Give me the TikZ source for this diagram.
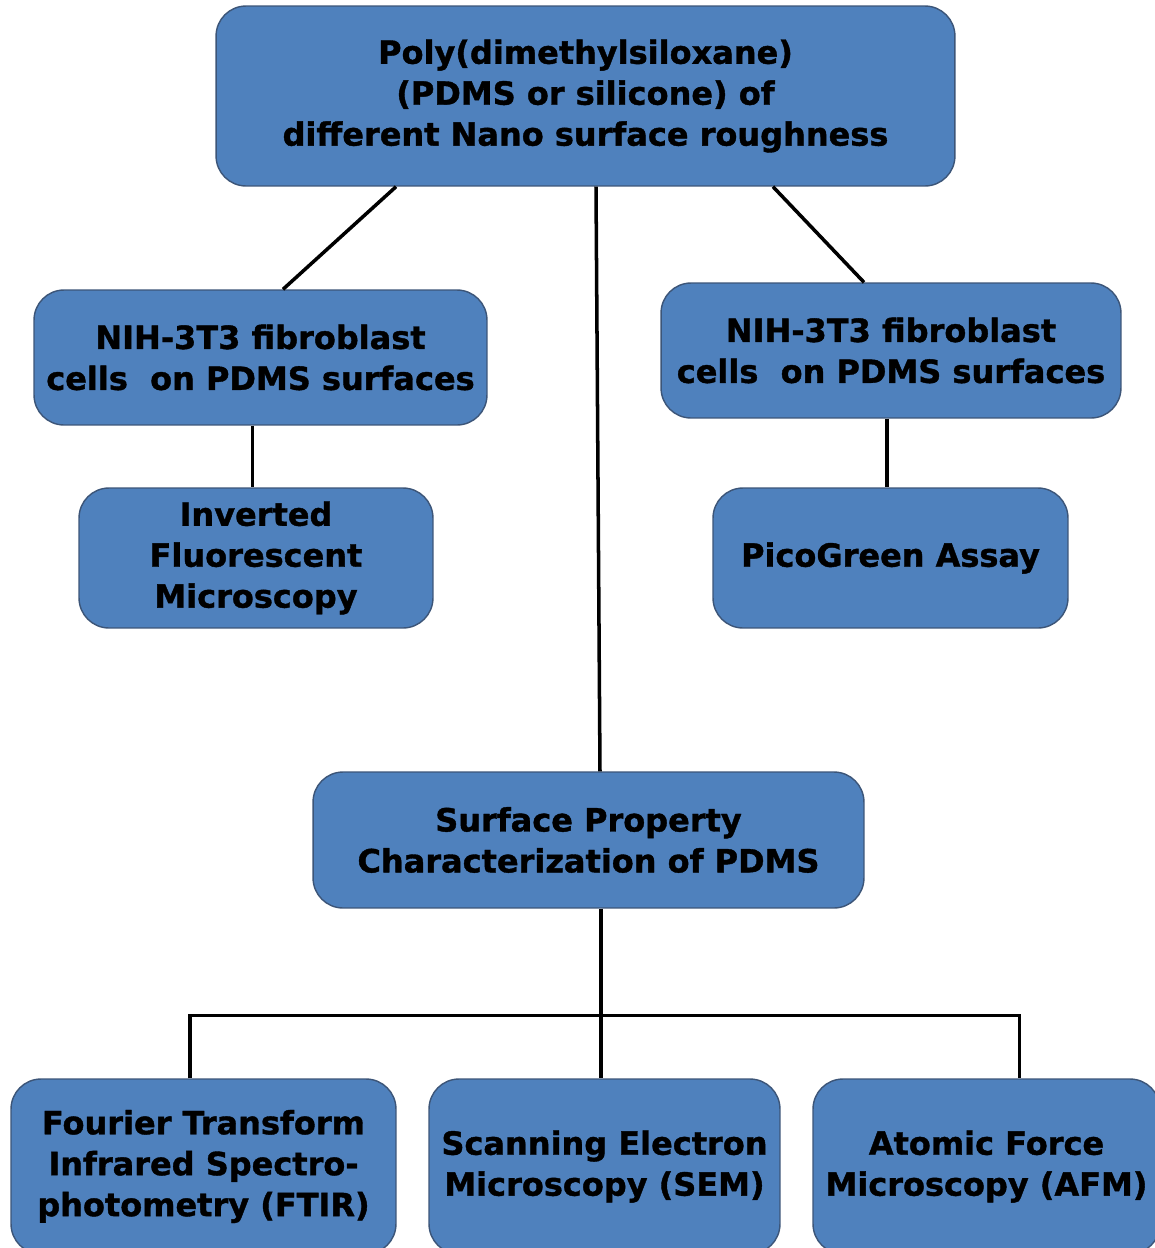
\documentclass[tikz,border=0pt]{standalone}
\usepackage{fontspec}
\setmainfont{DejaVu Sans}[BoldFeatures={FakeBold=1.2}]
\usetikzlibrary{calc}

\definecolor{boxfill}{RGB}{79,129,189}
\definecolor{boxline}{RGB}{60,85,120}

\tikzset{box/.style={draw=boxline, line width=0.8pt, fill=boxfill, rounded corners=0.6cm,
    align=center, inner sep=0pt, font=\fontsize{18.2}{23.3}\selectfont\bfseries}}
\tikzset{link/.style={line width=2pt, black}}

\begin{document}
\begin{tikzpicture}[x=0.02cm,y=-0.02cm]
\fill[white] (0,0) rectangle (1155,1248);
\useasboundingbox (0,0) rectangle (1155,1248);

\node[box, minimum width=14.78cm, minimum height=3.6cm](top) at (585.5,96)
    {Poly(dimethylsiloxane)\\ (PDMS or silicone) of\\ different Nano surface roughness};

\node[box, minimum width=9.06cm, minimum height=2.7cm](nihL) at (260.5,357.5)
    {NIH-3T3 fibroblast\\ cells~ on PDMS surfaces};

\node[box, minimum width=9.2cm, minimum height=2.7cm](nihR) at (891,350.5)
    {NIH-3T3 fibroblast\\ cells~ on PDMS surfaces};

\node[box, minimum width=7.08cm, minimum height=2.8cm](inv) at (256,558)
    {Inverted\\ Fluorescent\\ Microscopy};

\node[box, minimum width=7.1cm, minimum height=2.8cm](pico) at (890.5,558)
    {PicoGreen Assay};

\node[box, minimum width=11.02cm, minimum height=2.72cm](surf) at (588.5,840)
    {Surface Property\\ Characterization of PDMS};

\node[box, minimum width=7.7cm, minimum height=3.5cm](ftir) at (203.5,1166.5)
    {Fourier Transform\\ Infrared Spectro-\\ photometry (FTIR)};

\node[box, minimum width=7.02cm, minimum height=3.5cm](sem) at (604.5,1166.5)
    {Scanning Electron\\ Microscopy (SEM)};

\node[box, minimum width=6.94cm, minimum height=3.5cm](afm) at (986.5,1166.5)
    {Atomic Force\\ Microscopy (AFM)};

% branches out of the top box
\draw[link] ([xshift=-3.79cm]top.south) -- ([xshift=0.45cm]nihL.north);
\draw[link] ([xshift=3.75cm]top.south) -- ([xshift=-0.54cm]nihR.north);
\draw[link] ([xshift=0.21cm]top.south) -- ([xshift=0.23cm]surf.north);

\foreach \from/\to in {nihL/inv, nihR/pico, surf/sem}
    \draw[link] ([xshift=-0.07cm]\to.north |- \from.south) -- ([xshift=-0.07cm]\to.north);

% bus to the three methods
\draw[link] ([xshift=-0.27cm]ftir.north) -- ++(0,1.26cm)
    -- ([xshift=0.66cm,yshift=1.26cm]afm.north) -- ([xshift=0.66cm]afm.north);

\end{tikzpicture}
\end{document}
